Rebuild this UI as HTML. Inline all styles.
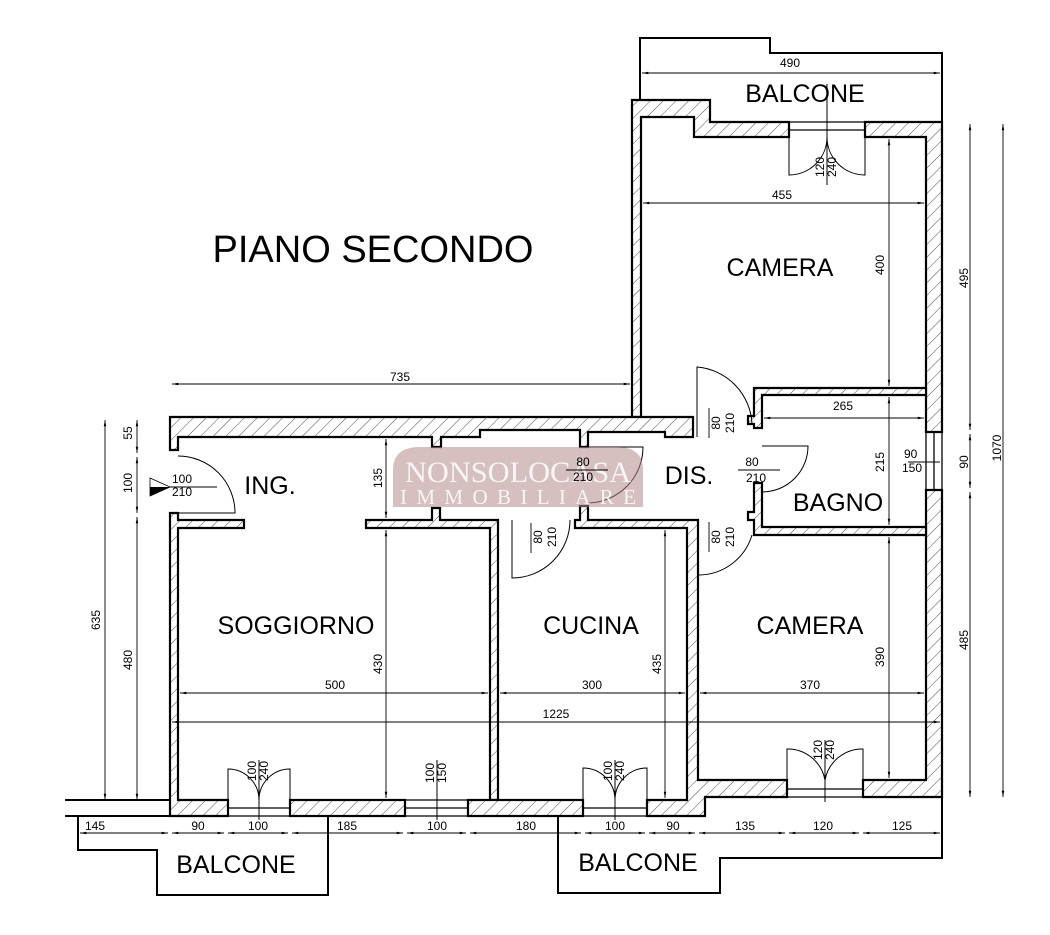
<!DOCTYPE html>
<html><head><meta charset="utf-8"><style>
html,body{margin:0;padding:0;background:#fff;}
svg{display:block;font-family:"Liberation Sans",sans-serif;}
</style></head><body>
<svg width="1050" height="935" viewBox="0 0 1050 935" xmlns="http://www.w3.org/2000/svg">
<defs>
<pattern id="h" patternUnits="userSpaceOnUse" width="9" height="9" patternTransform="rotate(45)">
<rect width="9" height="9" fill="#fff"/><line x1="0" y1="0" x2="0" y2="9" stroke="#222" stroke-width="0.8"/>
</pattern>
<marker id="a" viewBox="0 0 10 10" refX="10" refY="5" markerWidth="7" markerHeight="7" orient="auto-start-reverse"><path d="M0,3 L10,5 L0,7 z" fill="#000"/></marker>
</defs>
<rect width="1050" height="935" fill="#fff"/>

<text x="373" y="262" font-size="38" text-anchor="middle">PIANO SECONDO</text>

<polyline points="640,100 640,38 770,38 770,53 942,53 942,122" fill="none" stroke="#000" stroke-width="2"/>

<g fill="url(#h)" stroke="#000" stroke-width="2.2" stroke-linejoin="miter">
<polygon points="632,100 710,100 710,122 789,122 789,137 694,137 694,117 641,117 641,417 632,417"/>
<polygon points="865,122 942,122 942,432 926,432 926,137 865,137"/>
<polygon points="170,417 693,417 693,437 665,437 665,432 588,432 588,447 580,447 580,430 480,430 480,437 441,437 441,447 432,447 432,437 178,437 178,450 170,450"/>
<polygon points="170,513 178,513 178,520 244,520 244,528 178,528 178,800 228,800 228,816 170,816"/>
<polygon points="366,520 432,520 432,508 440,508 440,520 498,520 498,800 490,800 490,528 366,528"/>
<rect x="290" y="800" width="115" height="16"/>
<rect x="468" y="800" width="115" height="16"/>
<polygon points="575,520 580,520 580,506 588,506 588,520 698,520 698,780 787,780 787,797 705,797 705,816 647,816 647,800 687,800 687,528 575,528"/>
<polygon points="863,780 926,780 926,490 942,490 942,797 863,797"/>
<polygon points="754,388 926,388 926,395 762,395 762,428 754,428 754,424 748,424 748,416 754,416"/>
<polygon points="754,483 762,483 762,527 926,527 926,535 754,535 754,520 748,520 748,512 754,512 754,496"/>
</g>

<g stroke="#000" fill="none" stroke-width="1.3">
<line x1="65" y1="800" x2="170" y2="800" stroke-width="2"/>
<line x1="65" y1="816" x2="170" y2="816" stroke-width="2"/>
<line x1="789" y1="130" x2="865" y2="130"/>
<line x1="789" y1="122" x2="865" y2="122"/>
<line x1="926" y1="432" x2="926" y2="490"/><line x1="934" y1="432" x2="934" y2="490"/><line x1="942" y1="432" x2="942" y2="490"/>
<line x1="405" y1="800" x2="468" y2="800"/><line x1="405" y1="808" x2="468" y2="808"/><line x1="405" y1="816" x2="468" y2="816"/>
<line x1="228" y1="808" x2="290" y2="808"/><line x1="228" y1="816" x2="290" y2="816"/>
<line x1="583" y1="808" x2="647" y2="808"/><line x1="583" y1="816" x2="647" y2="816"/>
<line x1="787" y1="789" x2="863" y2="789"/><line x1="787" y1="797" x2="863" y2="797"/>
</g>

<polyline points="78,816 78,850 157,850 157,895 328,895 328,816" fill="none" stroke="#000" stroke-width="2"/>
<polyline points="558,816 558,893 720,893 720,858 942,858 942,797" fill="none" stroke="#000" stroke-width="2"/>

<g stroke="#000" fill="none" stroke-width="1">
<path d="M178,513 H235 A57,57 0 0 0 178,456"/>
<path d="M789,137 V175 A38,38 0 0 0 827,137"/>
<path d="M865,137 V175 A38,38 0 0 1 827,137"/>
<line x1="827" y1="84" x2="827" y2="185"/>
<path d="M228,800 V769 A31,31 0 0 1 259,800"/>
<path d="M290,800 V769 A31,31 0 0 0 259,800"/>
<line x1="259" y1="760" x2="259" y2="820"/>
<line x1="437" y1="760" x2="437" y2="820"/>
<path d="M583,800 V768 A32,32 0 0 1 615,800"/>
<path d="M647,800 V768 A32,32 0 0 0 615,800"/>
<line x1="615" y1="760" x2="615" y2="820"/>
<path d="M787,780 V749 A38,38 0 0 1 825,780"/>
<path d="M863,780 V749 A38,38 0 0 0 825,780"/>
<line x1="825" y1="740" x2="825" y2="802"/>
<path d="M588,447 H643 A56,56 0 0 1 588,503"/>
<path d="M512,520 V578 A58,58 0 0 0 570,520"/>
<path d="M697,437 V367 A60,60 0 0 1 752,424"/>
<path d="M762,446 H808 A46,46 0 0 1 762,492"/>
<path d="M698,535 V575 A56,56 0 0 0 752,535"/>
</g>

<path d="M393,507 V470 Q393,447 420,447 H617 Q643,447 643,470 V507 Z" fill="#b58a8a" opacity="0.55"/>
<text x="518" y="482" font-family="Liberation Serif,serif" font-size="30" fill="#fff" text-anchor="middle" opacity="0.85" textLength="226" lengthAdjust="spacingAndGlyphs">NONSOLOCASA</text>
<text x="518" y="504" font-family="Liberation Serif,serif" font-size="21" fill="#fff" text-anchor="middle" opacity="0.85" textLength="236" lengthAdjust="spacing">IMMOBILIARE</text>

<g stroke="#000" stroke-width="0.9" fill="none" marker-start="url(#a)" marker-end="url(#a)">
<line x1="642" y1="73" x2="940" y2="73"/>
<line x1="643" y1="203" x2="924" y2="203"/>
<line x1="889" y1="139" x2="889" y2="386"/>
<line x1="172" y1="384" x2="630" y2="384"/>
<line x1="764" y1="418" x2="924" y2="418"/>
<line x1="889" y1="397" x2="889" y2="525"/>
<line x1="889" y1="537" x2="889" y2="778"/>
<line x1="386" y1="439" x2="386" y2="518"/>
<line x1="386" y1="530" x2="386" y2="798"/>
<line x1="665" y1="530" x2="665" y2="798"/>
<line x1="180" y1="693" x2="488" y2="693"/>
<line x1="500" y1="693" x2="685" y2="693"/>
<line x1="700" y1="693" x2="924" y2="693"/>
<line x1="172" y1="722" x2="940" y2="722"/>
<line x1="105" y1="420" x2="105" y2="800"/>
<line x1="137" y1="420" x2="137" y2="453"/>
<line x1="137" y1="457" x2="137" y2="513"/>
<line x1="137" y1="517" x2="137" y2="800"/>
<line x1="970" y1="124" x2="970" y2="430"/>
<line x1="970" y1="434" x2="970" y2="488"/>
<line x1="970" y1="492" x2="970" y2="797"/>
<line x1="1003" y1="124" x2="1003" y2="797"/>
<line x1="80" y1="833" x2="168" y2="833"/>
<line x1="172" y1="833" x2="224" y2="833"/>
<line x1="228" y1="833" x2="288" y2="833"/>
<line x1="292" y1="833" x2="403" y2="833"/>
<line x1="407" y1="833" x2="466" y2="833"/>
<line x1="470" y1="833" x2="581" y2="833"/>
<line x1="585" y1="833" x2="645" y2="833"/>
<line x1="649" y1="833" x2="695" y2="833"/>
<line x1="699" y1="833" x2="785" y2="833"/>
<line x1="789" y1="833" x2="859" y2="833"/>
<line x1="863" y1="833" x2="940" y2="833"/>
</g>
<g stroke="#000" stroke-width="0.9">
<line x1="908" y1="462" x2="940" y2="462"/>
<line x1="170" y1="487" x2="217" y2="487"/>
<line x1="566" y1="470" x2="608" y2="470"/>
<line x1="738" y1="470" x2="780" y2="470"/>
<line x1="709" y1="408" x2="709" y2="438"/>
<line x1="531" y1="523" x2="531" y2="553"/>
<line x1="709" y1="522" x2="709" y2="552"/>
</g>
<path d="M150,478 L170,487 L150,496 Z" fill="#fff" stroke="#000" stroke-width="0.8"/>
<path d="M150,487 L170,487 L150,496 Z" fill="#000"/>

<g font-size="12" text-anchor="middle" fill="#000">
<text x="790" y="67">490</text>
<text x="782" y="199">455</text>
<text x="400" y="381">735</text>
<text x="843" y="410">265</text>
<text x="335" y="689">500</text>
<text x="592" y="689">300</text>
<text x="810" y="689">370</text>
<text x="556" y="718">1225</text>
<text x="95" y="830">145</text><text x="198" y="830">90</text><text x="258" y="830">100</text>
<text x="347" y="830">185</text><text x="437" y="830">100</text><text x="526" y="830">180</text>
<text x="615" y="830">100</text><text x="673" y="830">90</text><text x="745" y="830">135</text>
<text x="823" y="830">120</text><text x="902" y="830">125</text>
<text x="172" y="483" text-anchor="start">100</text><text x="172" y="496" text-anchor="start">210</text>
<text x="904" y="458" text-anchor="start">90</text><text x="902" y="472" text-anchor="start">150</text>
<text x="583" y="466">80</text><text x="583" y="481">210</text>
<text x="752" y="466">80</text><text x="756" y="482">210</text>
</g>
<g font-size="12" text-anchor="middle" fill="#000">
<text transform="translate(884,265) rotate(-90)">400</text>
<text transform="translate(884,462) rotate(-90)">215</text>
<text transform="translate(884,657) rotate(-90)">390</text>
<text transform="translate(382,478) rotate(-90)">135</text>
<text transform="translate(382,664) rotate(-90)">430</text>
<text transform="translate(661,664) rotate(-90)">435</text>
<text transform="translate(132,433) rotate(-90)">55</text>
<text transform="translate(132,483) rotate(-90)">100</text>
<text transform="translate(132,660) rotate(-90)">480</text>
<text transform="translate(100,620) rotate(-90)">635</text>
<text transform="translate(968,278) rotate(-90)">495</text>
<text transform="translate(968,462) rotate(-90)">90</text>
<text transform="translate(968,640) rotate(-90)">485</text>
<text transform="translate(1001,448) rotate(-90)">1070</text>
<text transform="translate(824,167) rotate(-90)">120</text><text transform="translate(836,167) rotate(-90)">240</text>
<text transform="translate(256,771) rotate(-90)">100</text><text transform="translate(268,771) rotate(-90)">240</text>
<text transform="translate(434,773) rotate(-90)">100</text><text transform="translate(446,773) rotate(-90)">150</text>
<text transform="translate(612,771) rotate(-90)">100</text><text transform="translate(624,771) rotate(-90)">240</text>
<text transform="translate(822,750) rotate(-90)">120</text><text transform="translate(834,750) rotate(-90)">240</text>
<text transform="translate(720,423) rotate(-90)">80</text><text transform="translate(734,423) rotate(-90)">210</text>
<text transform="translate(542,537) rotate(-90)">80</text><text transform="translate(556,537) rotate(-90)">210</text>
<text transform="translate(720,537) rotate(-90)">80</text><text transform="translate(734,537) rotate(-90)">210</text>
</g>

<g font-size="25" text-anchor="middle" fill="#000">
<text x="805" y="102">BALCONE</text>
<text x="780" y="276">CAMERA</text>
<text x="270" y="494">ING.</text>
<text x="689" y="484">DIS.</text>
<text x="838" y="511">BAGNO</text>
<text x="296" y="634">SOGGIORNO</text>
<text x="591" y="634">CUCINA</text>
<text x="810" y="634">CAMERA</text>
<text x="236" y="873">BALCONE</text>
<text x="638" y="871">BALCONE</text>
</g>
</svg>
</body></html>
